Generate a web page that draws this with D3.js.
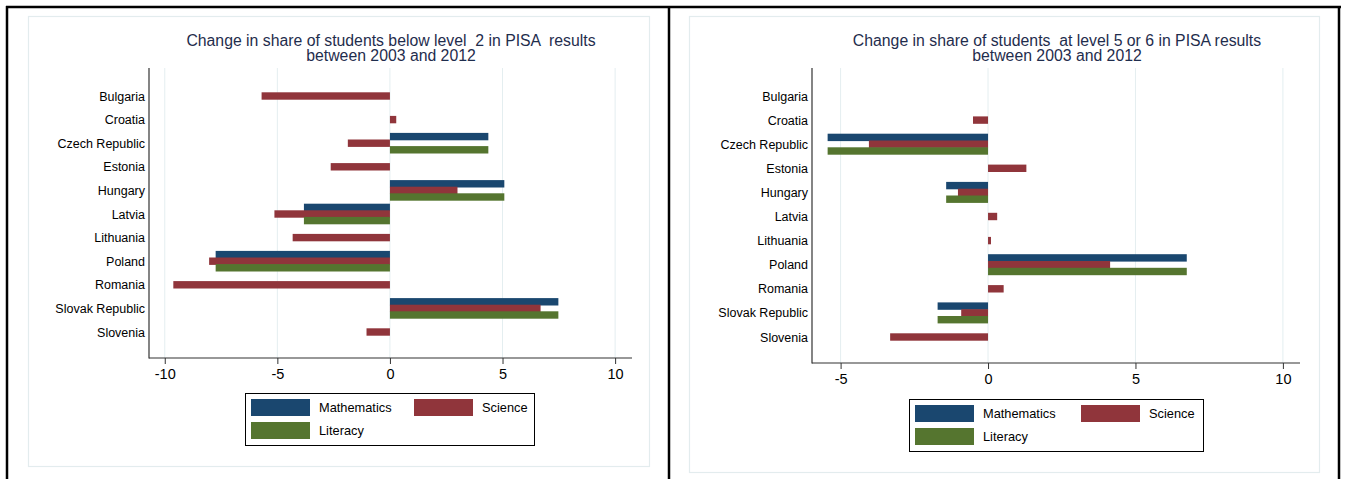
<!DOCTYPE html>
<html>
<head>
<meta charset="utf-8">
<script src="https://cdn.jsdelivr.net/npm/d3@7"></script>
<style>
  html, body { margin: 0; padding: 0; background: #fff; }
  svg { display: block; font-family: "Liberation Sans", Arial, sans-serif; }
</style>
</head>
<body>
<svg id="chart" width="1345" height="479"></svg>
<script>
// ---------------- data ----------------
const countries = ["Bulgaria", "Croatia", "Czech Republic", "Estonia", "Hungary", "Latvia",
  "Lithuania", "Poland", "Romania", "Slovak Republic", "Slovenia"];
const seriesNames = ["Mathematics", "Science", "Literacy"];

// Left chart: change in share of students below level 2
const belowMath     = [null, null, 4.37, null, 5.08, -3.82, null, -7.74, null, 7.48, null];
const belowScience  = [-5.7, 0.28, -1.87, -2.63, 3.0, -5.13, -4.32, -8.03, -9.62, 6.69, -1.04];
const belowLiteracy = [null, null, 4.37, null, 5.08, -3.82, null, -7.74, null, 7.48, null];

// Right chart: change in share of students at level 5 or 6
const topMath     = [null, null, -5.44, null, -1.42, null, null, 6.74, null, -1.71, null];
const topScience  = [null, -0.51, -4.04, 1.30, -1.02, 0.31, 0.10, 4.14, 0.53, -0.91, -3.32];
const topLiteracy = [null, null, -5.44, null, -1.42, null, null, 6.74, null, -1.71, null];

const leftTicks = [-10, -5, 0, 5, 10];
const rightTicks = [-5, 0, 5, 10];

const leftTitle = ["Change in share of students below level  2 in PISA  results", "between 2003 and 2012"];
const rightTitle = ["Change in share of students  at level 5 or 6 in PISA results", "between 2003 and 2012"];

const colors = ["#1a476f", "#90353b", "#55752f"];

// ---------------- drawing ----------------
const svg = d3.select("#chart");
svg.append("rect").attr("width", 1345).attr("height", 479).attr("fill", "#fff");

function drawPanel(cfg) {
  const g = svg.append("g");
  // inner graph region box
  g.append("rect")
    .attr("x", cfg.box[0] + 0.5).attr("y", cfg.box[1] + 0.5)
    .attr("width", cfg.box[2] - cfg.box[0]).attr("height", cfg.box[3] - cfg.box[1])
    .attr("fill", "none").attr("stroke", "#e3ecee").attr("stroke-width", 1.2);

  const x = d3.scaleLinear().domain(cfg.domain).range([cfg.axisX, cfg.axisRight]);
  const y = d3.scalePoint().domain(countries).range(cfg.catRange);

  // gridlines
  g.selectAll(".grid").data(cfg.ticks).enter().append("line")
    .attr("x1", d => x(d)).attr("x2", d => x(d))
    .attr("y1", cfg.axisTop).attr("y2", cfg.axisY)
    .attr("stroke", "#e4eef0").attr("stroke-width", 1);

  // bars
  const series = cfg.values.map((vals, si) => countries.map((c, i) => ({ c, v: vals[i], si })));
  series.forEach((s, si) => {
    g.selectAll(".bar" + si).data(s.filter(d => d.v !== null)).enter().append("rect")
      .attr("x", d => Math.min(x(0), x(d.v)))
      .attr("width", d => Math.abs(x(d.v) - x(0)))
      .attr("y", d => y(d.c) + cfg.offsets[si] - cfg.barH / 2)
      .attr("height", cfg.barH)
      .attr("fill", colors[si]);
  });

  // y axis (category labels)
  const yAxis = d3.axisLeft(y).tickSize(0).tickPadding(4);
  const ya = g.append("g").attr("transform", `translate(${cfg.axisX},0)`).call(yAxis);
  ya.select(".domain").remove();
  ya.selectAll("text").attr("font-size", 12.5).attr("fill", "#000")
    .attr("font-family", "Liberation Sans, Arial, sans-serif");
  g.append("line").attr("x1", cfg.axisX).attr("x2", cfg.axisX)
    .attr("y1", cfg.axisTop).attr("y2", cfg.axisY + 0.5)
    .attr("stroke", "#333").attr("stroke-width", 1.2);

  // x axis
  const xAxis = d3.axisBottom(x).tickValues(cfg.ticks).tickSize(6).tickPadding(5)
    .tickFormat(d => String(d));
  const xa = g.append("g").attr("transform", `translate(0,${cfg.axisY})`).call(xAxis);
  xa.select(".domain").remove();
  xa.selectAll("line").attr("stroke", "#333");
  xa.selectAll("text").attr("font-size", 14.5).attr("fill", "#000")
    .attr("font-family", "Liberation Sans, Arial, sans-serif");
  g.append("line").attr("x1", cfg.axisX).attr("x2", cfg.axisRight)
    .attr("y1", cfg.axisY).attr("y2", cfg.axisY)
    .attr("stroke", "#333").attr("stroke-width", 1.2);

  // title
  g.selectAll(".title").data(cfg.title).enter().append("text")
    .attr("x", cfg.titleX).attr("y", (d, i) => cfg.titleY + i * 15)
    .attr("text-anchor", "middle").attr("font-size", 15.8).attr("fill", "#1f2d4d")
    .style("white-space", "pre").text(d => d);

  // legend
  const L = cfg.legend;
  g.append("rect").attr("x", L.x + 0.5).attr("y", L.y + 0.5).attr("width", L.w).attr("height", L.h)
    .attr("fill", "#fff").attr("stroke", "#000").attr("stroke-width", 1);
  const pos = [[0, 0], [L.col2, 0], [0, L.row2]];
  seriesNames.forEach((name, i) => {
    const [dx, dy] = pos[i];
    g.append("rect").attr("x", L.x + 6 + dx).attr("y", L.y + 6 + dy)
      .attr("width", 59).attr("height", 17).attr("fill", colors[i]);
    g.append("text").attr("x", L.x + 6 + dx + 68).attr("y", L.y + 6 + dy + 13)
      .attr("font-size", 12.8).attr("fill", "#000").text(name);
  });
}

drawPanel({
  box: [28, 16, 649, 466],
  domain: [-10.7, 10.75], axisX: 149, axisRight: 632,
  axisTop: 68, axisY: 358, catRange: [96, 332],
  offsets: [-6.6, 0, 6.6], barH: 7.4,
  ticks: leftTicks,
  values: [belowMath, belowScience, belowLiteracy],
  title: leftTitle, titleX: 391, titleY: 46,
  legend: { x: 245, y: 393, w: 289, h: 52, col2: 163, row2: 23 }
});

drawPanel({
  box: [689, 16, 1319, 472],
  domain: [-5.97, 10.58], axisX: 812, axisRight: 1300,
  axisTop: 68, axisY: 363, catRange: [96, 337],
  offsets: [-6.8, 0, 6.8], barH: 7.4,
  ticks: rightTicks,
  values: [topMath, topScience, topLiteracy],
  title: rightTitle, titleX: 1057, titleY: 46,
  legend: { x: 909, y: 399, w: 294, h: 52, col2: 166, row2: 23 }
});

// outer black frame
const frame = svg.append("g").attr("stroke", "#000").attr("stroke-width", 2.5);
frame.append("line").attr("x1", 6).attr("x2", 1341).attr("y1", 7).attr("y2", 7);
frame.append("line").attr("x1", 7).attr("x2", 7).attr("y1", 6).attr("y2", 479);
frame.append("line").attr("x1", 669).attr("x2", 669).attr("y1", 6).attr("y2", 479);
frame.append("line").attr("x1", 1339).attr("x2", 1339).attr("y1", 6).attr("y2", 479);
</script>
</body>
</html>
